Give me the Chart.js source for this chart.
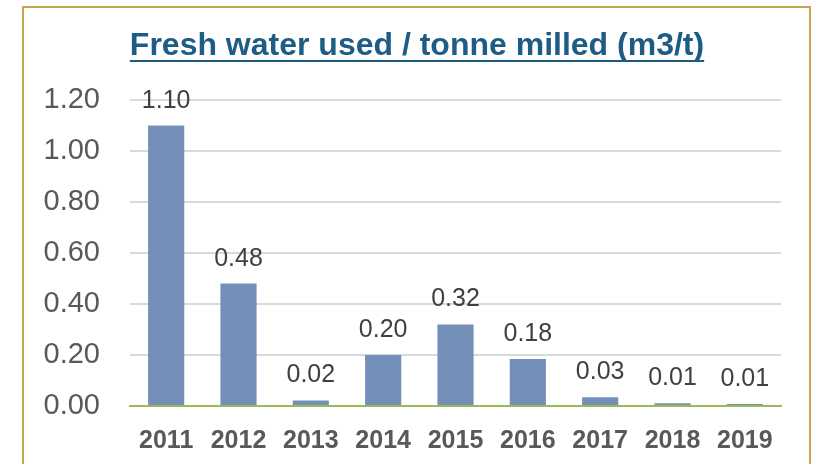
<!DOCTYPE html>
<html>
<head>
<meta charset="utf-8">
<script src="https://cdn.jsdelivr.net/npm/chart.js@4.4.1/dist/chart.umd.min.js"></script>
<style>
  html, body { margin: 0; padding: 0; background: #ffffff; }
  #wrap { position: relative; width: 820px; height: 464px; }
  canvas { display: block; }
</style>
</head>
<body>
<div id="wrap"><canvas id="c" width="820" height="464"></canvas></div>
<script>
const chartTitle = "Fresh water used / tonne milled (m3/t)";
const years = ["2011", "2012", "2013", "2014", "2015", "2016", "2017", "2018", "2019"];
const waterPerTonne = [1.10, 0.48, 0.022, 0.20, 0.32, 0.184, 0.034, 0.011, 0.008];
const yTickValues = [0, 0.2, 0.4, 0.6, 0.8, 1.0, 1.2];

const FONT = "'Liberation Sans', Arial, 'DejaVu Sans', sans-serif";

const framePlugin = {
  id: 'frame',
  beforeDraw(chart) {
    const ctx = chart.ctx;
    ctx.save();
    ctx.fillStyle = '#ffffff';
    ctx.fillRect(0, 0, chart.width, chart.height);
    ctx.strokeStyle = '#C9A452';
    ctx.lineWidth = 2;
    ctx.strokeRect(23, 7, 787, 480);
    ctx.restore();
  }
};

const titlePlugin = {
  id: 'ulTitle',
  afterDraw(chart) {
    const ctx = chart.ctx;
    ctx.save();
    ctx.font = "bold 32px " + FONT;
    ctx.fillStyle = '#1D5C85';
    ctx.textAlign = 'center';
    ctx.textBaseline = 'alphabetic';
    const cx = 417, by = 55;
    ctx.fillText(chartTitle, cx, by);
    const w = ctx.measureText(chartTitle).width;
    ctx.fillRect(cx - w / 2, by + 5, w, 2);
    ctx.restore();
  }
};

const valueLabelPlugin = {
  id: 'valueLabels',
  afterDatasetsDraw(chart) {
    const ctx = chart.ctx;
    const meta = chart.getDatasetMeta(0);
    ctx.save();
    ctx.font = "25px " + FONT;
    ctx.fillStyle = '#404040';
    ctx.textAlign = 'center';
    ctx.textBaseline = 'alphabetic';
    meta.data.forEach((bar, i) => {
      const v = chart.data.datasets[0].data[i];
      ctx.fillText(v.toFixed(2), bar.x, bar.y - 18);
    });
    ctx.restore();
  }
};

new Chart(document.getElementById('c'), {
  type: 'bar',
  data: {
    labels: years,
    datasets: [{
      data: waterPerTonne,
      backgroundColor: '#7490B8',
      borderWidth: 0,
      categoryPercentage: 1.0,
      barPercentage: 0.5
    }]
  },
  options: {
    responsive: false,
    animation: false,
    events: [],
    layout: { padding: { left: 0, right: 39, top: 100, bottom: 0 } },
    plugins: {
      legend: { display: false },
      title: { display: false },
      tooltip: { enabled: false }
    },
    scales: {
      x: {
        grid: { display: false, drawTicks: false },
        border: { display: true, color: '#9BBB59', width: 2 },
        ticks: {
          color: '#595959',
          font: { family: FONT, size: 25, weight: 'bold' },
          padding: 20,
          maxRotation: 0,
          autoSkip: false
        },
        afterFit(scale) { scale.height = 58; }
      },
      y: {
        min: 0,
        max: 1.2,
        afterBuildTicks(scale) {
          scale.ticks = yTickValues.map(v => ({ value: v }));
        },
        grid: {
          drawTicks: false,
          color: (ctx) => (ctx.tick && ctx.tick.value === 0) ? '#9BBB59' : '#D9D9D9',
          lineWidth: 2
        },
        border: { display: false },
        ticks: {
          color: '#595959',
          font: { family: FONT, size: 29 },
          padding: 30,
          callback: (v) => Number(v).toFixed(2)
        },
        afterFit(scale) { scale.width = 130; }
      }
    }
  },
  plugins: [framePlugin, titlePlugin, valueLabelPlugin]
});
</script>
</body>
</html>
